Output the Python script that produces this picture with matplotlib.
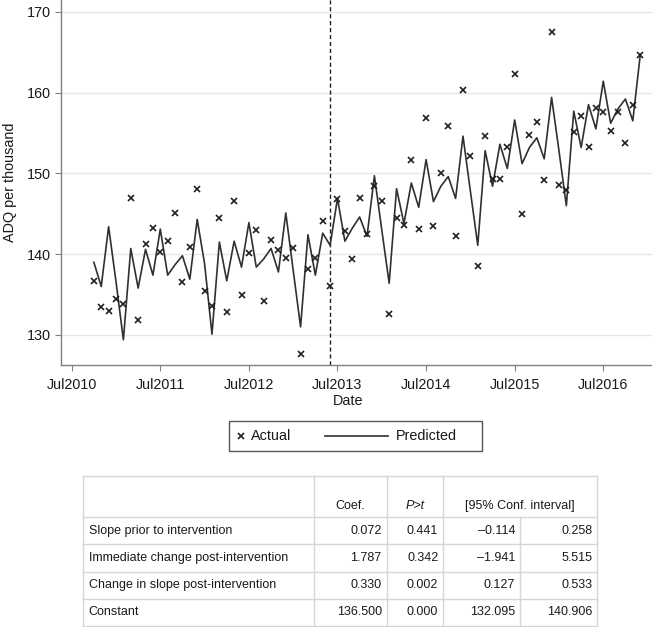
import numpy as np
import matplotlib
matplotlib.use("Agg")
import matplotlib.pyplot as plt
from matplotlib.lines import Line2D
from matplotlib.patches import Rectangle

plt.rcParams['font.family'] = ['Liberation Sans', 'DejaVu Sans']

# monthly series, first point Oct2010 (month 3 counted from Jul2010)
start_month = 3
actual = [136.7, 133.5, 133.0, 134.4, 133.8, 147.0, 131.9, 141.2, 143.2, 140.3,
          141.6, 145.1, 136.5, 140.9, 148.1, 135.5, 133.6, 144.5, 132.9, 146.6,
          135.0, 140.1, 143.0, 134.2, 141.7, 140.5, 139.5, 140.7, 127.6, 138.2,
          139.5, 144.1, 136.1, 146.8, 142.9, 139.4, 146.9, 142.5, 148.4, 146.6,
          132.6, 144.5, 143.6, 151.6, 143.1, 156.9, 143.5, 150.0, 155.8, 142.3,
          160.3, 152.2, 138.5, 154.6, 149.3, 149.3, 153.3, 162.3, 145.0, 154.8,
          156.3, 149.2, 167.5, 148.5, 147.9, 155.1, 157.1, 153.2, 158.1, 157.6,
          155.2, 157.6, 153.8, 158.5, 164.6]
predicted = [139.0, 136.0, 143.4, 136.6, 129.4, 140.7, 135.8, 140.6, 137.4, 143.1,
             137.4, 138.7, 139.8, 136.9, 144.3, 138.8, 130.1, 141.5, 136.7, 141.6,
             138.4, 143.9, 138.4, 139.4, 140.7, 137.8, 145.1, 138.0, 131.0, 142.4,
             137.4, 142.6, 141.1, 146.9, 141.6, 143.2, 144.6, 142.2, 149.7, 143.0,
             136.4, 148.1, 143.8, 148.8, 145.8, 151.7, 146.5, 148.4, 149.6, 146.9,
             154.6, 147.8, 141.1, 152.8, 148.4, 153.6, 150.6, 156.6, 151.2, 153.2,
             154.4, 151.8, 159.4, 152.8, 146.0, 157.7, 153.2, 158.5, 155.5, 161.4,
             156.2, 158.0, 159.2, 156.5, 164.6]
intervention_month = 35  # Jun2013

tick_months = [0, 12, 24, 36, 48, 60, 72]
tick_labels = ["Jul2010", "Jul2011", "Jul2012", "Jul2013", "Jul2014", "Jul2015", "Jul2016"]
y_ticks = [130, 140, 150, 160, 170]

row_names = ["Slope prior to intervention", "Immediate change post-intervention",
             "Change in slope post-intervention", "Constant"]
coef = ["0.072", "1.787", "0.330", "136.500"]
pval = ["0.441", "0.342", "0.002", "0.000"]
ci_low = ["\u20130.114", "\u20131.941", "0.127", "132.095"]
ci_high = ["0.258", "5.515", "0.533", "140.906"]

W, H = 652, 627
fig = plt.figure(figsize=(W / 100, H / 100), dpi=100)


def fx(px):
    return px / W


def fy(py):
    return 1 - py / H


ax = fig.add_axes([fx(60.7), fy(364.7), fx(652) - fx(60.7), fy(0) - fy(364.7)])

months = np.arange(start_month, start_month + len(actual))
ax.plot(months, predicted, color="#303030", lw=1.2, zorder=3)
ax.plot(months, actual, linestyle="none", marker="x", ms=5, mew=1.2,
        color="#202020", zorder=4)
ax.axvline(intervention_month, color="#202020", lw=1.0, ls=(0, (3, 2)), zorder=2)

ax.set_xlim(-1.49, 78.6)
ax.set_ylim(126.32, 171.45)
ax.set_xticks(tick_months)
ax.set_xticklabels(tick_labels)
ax.set_yticks(y_ticks)
ax.grid(axis="y", color="#e6e6e6", lw=1.0, zorder=0)
ax.set_axisbelow(True)

for s in ["top", "right"]:
    ax.spines[s].set_visible(False)
for s in ["left", "bottom"]:
    ax.spines[s].set_color("#808080")
    ax.spines[s].set_linewidth(1.0)
ax.tick_params(axis="both", length=4, width=0.8, color="#808080",
               labelsize=10.4, labelcolor="#1a1a1a", pad=3)
ax.tick_params(axis="x", pad=5.5)

ax.set_xlabel("Date", fontsize=10.4, color="#1a1a1a")
ax.xaxis.set_label_coords((348.3 - 60.7) / (652 - 60.7), -29 / 364.7)
ax.set_ylabel("ADQ per thousand", fontsize=10.4, color="#1a1a1a")
ax.yaxis.set_label_coords(-44 / 591.3, 0.5)

# legend box
fig.add_artist(Rectangle((fx(229.3), fy(451)), fx(482.3) - fx(229.3), fy(420.7) - fy(451),
                         transform=fig.transFigure, fill=False, ec="#555555", lw=1.0))
fig.add_artist(Line2D([fx(240.7)], [fy(436)], marker="x", ms=5, mew=1.2,
                      color="#202020", transform=fig.transFigure))
fig.text(fx(250.7), fy(436.5), "Actual", fontsize=10.4, va="center", ha="left", color="#1a1a1a")
fig.add_artist(Line2D([fx(325), fx(388)], [fy(436), fy(436)], color="#303030", lw=1.2,
                      transform=fig.transFigure))
fig.text(fx(396), fy(436.5), "Predicted", fontsize=10.4, va="center", ha="left", color="#1a1a1a")

# table
col_x = [83.3, 314.3, 386.7, 443.3, 520.3, 597.3]
row_y = [475.7, 517.3, 544.4, 571.5, 598.6, 625.7]
grid_c = "#d6d6d6"


def hline(y, x0, x1):
    fig.add_artist(Line2D([fx(x0), fx(x1)], [fy(y), fy(y)], color=grid_c, lw=1.0,
                          transform=fig.transFigure))


def vline(x, y0, y1):
    fig.add_artist(Line2D([fx(x), fx(x)], [fy(y0), fy(y1)], color=grid_c, lw=1.0,
                          transform=fig.transFigure))


for y in row_y:
    hline(y, col_x[0], col_x[-1])
for x in [col_x[0], col_x[1], col_x[2], col_x[3], col_x[5]]:
    vline(x, row_y[0], row_y[-1])
vline(col_x[4], row_y[1], row_y[-1])

tfs = 9.0
head_y = 505.7
fig.text(fx((col_x[1] + col_x[2]) / 2), fy(head_y), "Coef.", fontsize=tfs,
         ha="center", va="center", color="#1a1a1a")
fig.text(fx((col_x[2] + col_x[3]) / 2), fy(head_y), "P>t", fontsize=tfs, style="italic",
         ha="center", va="center", color="#1a1a1a")
fig.text(fx((col_x[3] + col_x[5]) / 2), fy(head_y), "[95% Conf. interval]", fontsize=tfs,
         ha="center", va="center", color="#1a1a1a")

for i, name in enumerate(row_names):
    yc = (row_y[i + 1] + row_y[i + 2]) / 2
    fig.text(fx(col_x[0] + 5.5), fy(yc), name, fontsize=tfs, ha="left", va="center",
             color="#1a1a1a")
    for j, vals in enumerate([coef, pval, ci_low, ci_high]):
        fig.text(fx(col_x[j + 2] - 5), fy(yc), vals[i], fontsize=tfs, ha="right",
                 va="center", color="#1a1a1a")

fig.savefig("out.png", dpi=100)
